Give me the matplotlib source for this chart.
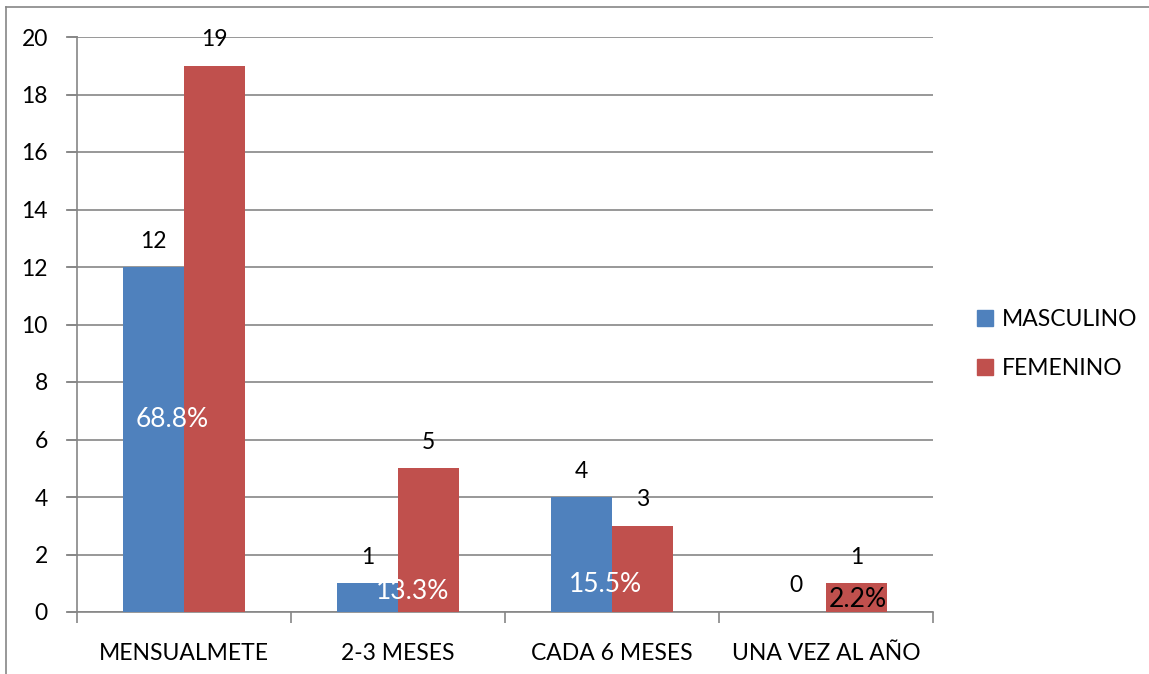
import matplotlib
matplotlib.use("Agg")
import matplotlib.pyplot as plt
from matplotlib.lines import Line2D
import numpy as np

categories = ["MENSUALMETE", "2-3 MESES", "CADA 6 MESES", "UNA VEZ AL AÑO"]
masculino = [12, 1, 4, 0]
femenino = [19, 5, 3, 1]
series_names = ["MASCULINO", "FEMENINO"]
pct_labels = ["68.8%", "13.3%", "15.5%", "2.2%"]
pct_colors = ["white", "white", "white", "black"]

# placement of the percentage annotations (category units, data units)
pct_pos = [(-0.056, 6.68), (1.07, 0.70), (1.97, 0.94), (3.15, 0.42)]

BLUE = "#4F81BD"
RED = "#C0504D"
GRID = "#868686"
FS = 16.5

plt.rcParams["font.family"] = ["Lato", "DejaVu Sans"]

fig = plt.figure(figsize=(11.49, 6.74), dpi=100)
ax = fig.add_axes([77 / 1149, 62 / 674, (933 - 77) / 1149, (612 - 37) / 674])

x = np.arange(len(categories))
w = 0.285
b1 = ax.bar(x - w / 2, masculino, w, color=BLUE, label=series_names[0], zorder=3)
b2 = ax.bar(x + w / 2, femenino, w, color=RED, label=series_names[1], zorder=3)

for bars, vals in ((b1, masculino), (b2, femenino)):
    for rect, v in zip(bars, vals):
        ax.annotate(str(v), (rect.get_x() + rect.get_width() / 2, v),
                    xytext=(0, 26), textcoords="offset pixels",
                    ha="center", va="center", fontsize=FS, color="black", zorder=5)

for txt, col, (px, py) in zip(pct_labels, pct_colors, pct_pos):
    ax.text(px, py, txt, ha="center", va="center", fontsize=19, color=col, zorder=6)

ax.set_xlim(-0.5, len(categories) - 0.5)
ax.set_ylim(0, 20)
ax.set_yticks(range(0, 21, 2))
ax.yaxis.grid(True, color=GRID, linewidth=1.2, zorder=0)
ax.set_axisbelow(True)

ax.set_xticks(x)
ax.set_xticklabels(categories)
ax.set_xticks(np.arange(-0.5, len(categories), 1.0), minor=True)
ax.tick_params(axis="x", which="major", length=0, pad=22, labelsize=FS)
ax.tick_params(axis="x", which="minor", length=8, color=GRID, width=1.2)
ax.tick_params(axis="y", length=8, color=GRID, width=1.2, pad=13, labelsize=FS)

for s in ("top", "right"):
    ax.spines[s].set_visible(False)
for s in ("left", "bottom"):
    ax.spines[s].set_color(GRID)
    ax.spines[s].set_linewidth(1.2)

# gridlines run through the tick area on the left
for yv in range(0, 21, 2):
    ax.plot([-0.5 - 9 / 214, -0.5], [yv, yv], color=GRID, lw=1.2, clip_on=False, zorder=1)

handles = [plt.Rectangle((0, 0), 1, 1, color=BLUE), plt.Rectangle((0, 0), 1, 1, color=RED)]
fig.legend(handles, series_names, loc="center left", bbox_to_anchor=(956 / 1149, 1 - 344 / 674),
           frameon=False, fontsize=FS, handlelength=0.7, handleheight=0.7,
           handletextpad=0.4, labelspacing=1.2)

# outer chart frame
fig.add_artist(Line2D([6 / 1149, 6 / 1149], [0, 1 - 7 / 674], color=GRID, lw=1.2))
fig.add_artist(Line2D([6 / 1149, 1], [1 - 7 / 674, 1 - 7 / 674], color=GRID, lw=1.2))

fig.savefig("out.png", dpi=100, facecolor="white")
